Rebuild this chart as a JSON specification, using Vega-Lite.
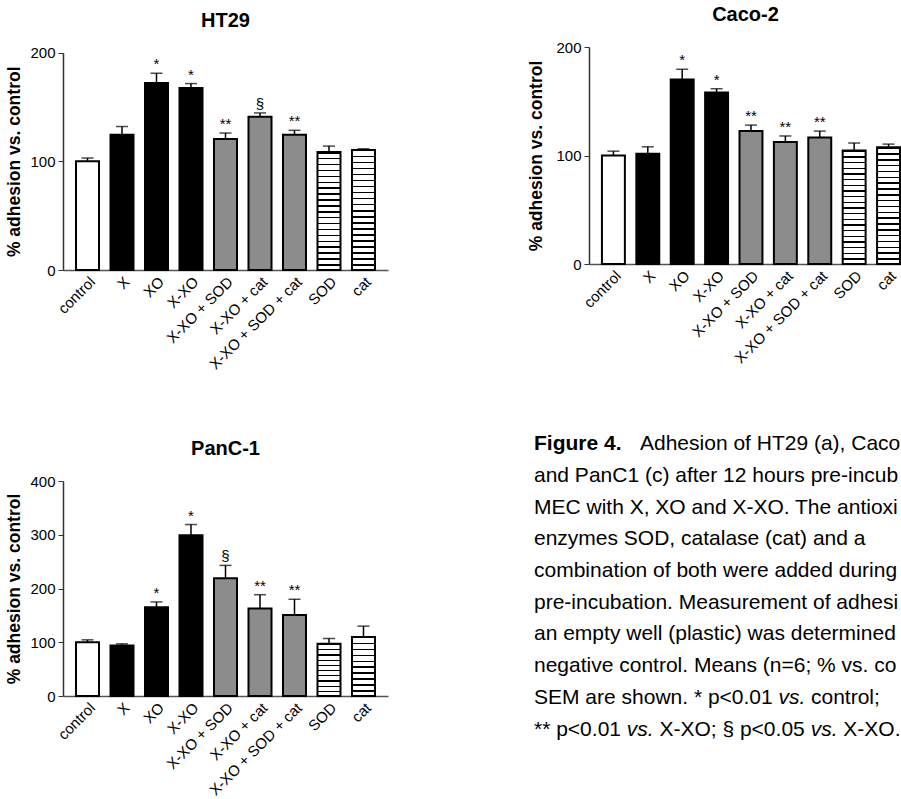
{
  "$schema": "https://vega.github.io/schema/vega-lite/v6.json",
  "background": "white",
  "padding": {"left": 5, "top": 5, "right": 0, "bottom": 0},
  "config": {
    "font": "Liberation Sans",
    "view": {"stroke": null},
    "title": {"fontSize": 20, "fontWeight": "bold", "color": "#000", "anchor": "middle", "offset": 15},
    "axis": {"labelColor": "#000", "titleColor": "#000", "domainColor": "#333", "tickColor": "#333", "grid": false}
  },
  "hconcat": [
    {
      "spacing": 67,
      "vconcat": [
        {
          "title": {"text": "HT29"},
          "width": 325, "height": 223,
          "data": {"values": [
            {"condition": "control", "mean": 100, "upper": 103, "sig": ""},
            {"condition": "X", "mean": 124.5, "upper": 132, "sig": ""},
            {"condition": "XO", "mean": 172, "upper": 181, "sig": "*"},
            {"condition": "X-XO", "mean": 167.5, "upper": 171.5, "sig": "*"},
            {"condition": "X-XO + SOD", "mean": 120.5, "upper": 126, "sig": "**"},
            {"condition": "X-XO + cat", "mean": 141, "upper": 144.5, "sig": "§"},
            {"condition": "X-XO + SOD + cat", "mean": 124.5, "upper": 128.5, "sig": "**"},
            {"condition": "SOD", "mean": 108.5, "upper": 114, "sig": ""},
            {"condition": "cat", "mean": 110.5, "upper": 111.5, "sig": ""}
          ]},
          "encoding": {
            "x": {"field": "condition", "type": "nominal", "sort": null,
              "scale": {"domain": ["control", "X", "XO", "X-XO", "X-XO + SOD", "X-XO + cat", "X-XO + SOD + cat", "SOD", "cat"], "paddingInner": 0.333, "paddingOuter": 0.377},
              "axis": {"title": null, "labelAngle": -45, "ticks": false, "labelFontSize": 15, "labelPadding": 4, "domainColor": "#555", "domainWidth": 1.5}},
            "y": {"field": "mean", "type": "quantitative", "title": "% adhesion vs. control",
              "scale": {"domain": [0, 200], "nice": false, "range": [223, 5.6]},
              "axis": {"values": [0, 100, 200], "labelFontSize": 15, "tickSize": 5, "labelPadding": 3, "titlePadding": 6, "titleFontSize": 17.5, "titleFontWeight": "bold", "domainWidth": 1.5}}
          },
          "layer": [
            {"mark": {"type": "rule", "color": "#000", "strokeWidth": 1.5}, "encoding": {"y2": {"field": "upper"}}},
            {"mark": {"type": "tick", "color": "#000", "thickness": 1.5, "size": 12}, "encoding": {"y": {"field": "upper", "type": "quantitative", "title": "% adhesion vs. control"}}},
            {"transform": [{"filter": {"field": "condition", "equal": "control"}}], "mark": {"type": "bar", "fill": "#fff", "stroke": "#000", "strokeWidth": 2}},
            {"transform": [{"filter": {"field": "condition", "oneOf": ["X", "XO", "X-XO"]}}], "mark": {"type": "bar", "fill": "#000", "stroke": "#000", "strokeWidth": 2}},
            {"transform": [{"filter": {"field": "condition", "oneOf": ["X-XO + SOD", "X-XO + cat", "X-XO + SOD + cat"]}}], "mark": {"type": "bar", "fill": "#8c8c8c", "stroke": "#000", "strokeWidth": 2}},
            {"transform": [{"filter": {"field": "condition", "oneOf": ["SOD", "cat"]}}], "mark": {"type": "bar", "stroke": "#000", "strokeWidth": 2, "fill": {"gradient": "linear", "x1": 0, "y1": 0, "x2": 0, "y2": 1, "stops": [
        {"offset": 0, "color": "#000"}, {"offset": 0.013, "color": "#000"}, {"offset": 0.013, "color": "#fff"}, {"offset": 0.05, "color": "#fff"},
        {"offset": 0.05, "color": "#000"}, {"offset": 0.063, "color": "#000"}, {"offset": 0.063, "color": "#fff"}, {"offset": 0.1, "color": "#fff"},
        {"offset": 0.1, "color": "#000"}, {"offset": 0.113, "color": "#000"}, {"offset": 0.113, "color": "#fff"}, {"offset": 0.15, "color": "#fff"},
        {"offset": 0.15, "color": "#000"}, {"offset": 0.163, "color": "#000"}, {"offset": 0.163, "color": "#fff"}, {"offset": 0.2, "color": "#fff"},
        {"offset": 0.2, "color": "#000"}, {"offset": 0.213, "color": "#000"}, {"offset": 0.213, "color": "#fff"}, {"offset": 0.25, "color": "#fff"},
        {"offset": 0.25, "color": "#000"}, {"offset": 0.263, "color": "#000"}, {"offset": 0.263, "color": "#fff"}, {"offset": 0.3, "color": "#fff"},
        {"offset": 0.3, "color": "#000"}, {"offset": 0.313, "color": "#000"}, {"offset": 0.313, "color": "#fff"}, {"offset": 0.35, "color": "#fff"},
        {"offset": 0.35, "color": "#000"}, {"offset": 0.363, "color": "#000"}, {"offset": 0.363, "color": "#fff"}, {"offset": 0.4, "color": "#fff"},
        {"offset": 0.4, "color": "#000"}, {"offset": 0.413, "color": "#000"}, {"offset": 0.413, "color": "#fff"}, {"offset": 0.45, "color": "#fff"},
        {"offset": 0.45, "color": "#000"}, {"offset": 0.463, "color": "#000"}, {"offset": 0.463, "color": "#fff"}, {"offset": 0.5, "color": "#fff"},
        {"offset": 0.5, "color": "#000"}, {"offset": 0.513, "color": "#000"}, {"offset": 0.513, "color": "#fff"}, {"offset": 0.55, "color": "#fff"},
        {"offset": 0.55, "color": "#000"}, {"offset": 0.563, "color": "#000"}, {"offset": 0.563, "color": "#fff"}, {"offset": 0.6, "color": "#fff"},
        {"offset": 0.6, "color": "#000"}, {"offset": 0.613, "color": "#000"}, {"offset": 0.613, "color": "#fff"}, {"offset": 0.65, "color": "#fff"},
        {"offset": 0.65, "color": "#000"}, {"offset": 0.663, "color": "#000"}, {"offset": 0.663, "color": "#fff"}, {"offset": 0.7, "color": "#fff"},
        {"offset": 0.7, "color": "#000"}, {"offset": 0.713, "color": "#000"}, {"offset": 0.713, "color": "#fff"}, {"offset": 0.75, "color": "#fff"},
        {"offset": 0.75, "color": "#000"}, {"offset": 0.763, "color": "#000"}, {"offset": 0.763, "color": "#fff"}, {"offset": 0.8, "color": "#fff"},
        {"offset": 0.8, "color": "#000"}, {"offset": 0.813, "color": "#000"}, {"offset": 0.813, "color": "#fff"}, {"offset": 0.85, "color": "#fff"},
        {"offset": 0.85, "color": "#000"}, {"offset": 0.863, "color": "#000"}, {"offset": 0.863, "color": "#fff"}, {"offset": 0.9, "color": "#fff"},
        {"offset": 0.9, "color": "#000"}, {"offset": 0.913, "color": "#000"}, {"offset": 0.913, "color": "#fff"}, {"offset": 0.95, "color": "#fff"},
        {"offset": 0.95, "color": "#000"}, {"offset": 0.963, "color": "#000"}, {"offset": 0.963, "color": "#fff"}, {"offset": 1, "color": "#fff"}
      ]}}},
            {"mark": {"type": "text", "baseline": "bottom", "dy": -1, "fontSize": 15, "color": "#000"}, "encoding": {"y": {"field": "upper", "type": "quantitative", "title": "% adhesion vs. control"}, "text": {"field": "sig"}}}
          ]
        },
        {
          "title": "PanC-1",
          "width": 325, "height": 215,
          "data": {"values": [
            {"condition": "control", "mean": 100, "upper": 104.5, "sig": ""},
            {"condition": "X", "mean": 94, "upper": 97, "sig": ""},
            {"condition": "XO", "mean": 165, "upper": 175, "sig": "*"},
            {"condition": "X-XO", "mean": 299, "upper": 319, "sig": "*"},
            {"condition": "X-XO + SOD", "mean": 219, "upper": 243, "sig": "§"},
            {"condition": "X-XO + cat", "mean": 163, "upper": 188.5, "sig": "**"},
            {"condition": "X-XO + SOD + cat", "mean": 150.5, "upper": 180, "sig": "**"},
            {"condition": "SOD", "mean": 97, "upper": 107, "sig": ""},
            {"condition": "cat", "mean": 110, "upper": 130, "sig": ""}
          ]},
          "encoding": {
            "x": {"field": "condition", "type": "nominal", "sort": null,
              "scale": {"domain": ["control", "X", "XO", "X-XO", "X-XO + SOD", "X-XO + cat", "X-XO + SOD + cat", "SOD", "cat"], "paddingInner": 0.333, "paddingOuter": 0.377},
              "axis": {"title": null, "labelAngle": -45, "ticks": false, "labelFontSize": 15, "labelPadding": 4, "domainColor": "#555", "domainWidth": 1.5}},
            "y": {"field": "mean", "type": "quantitative", "title": "% adhesion vs. control",
              "scale": {"domain": [0, 400], "nice": false},
              "axis": {"values": [0, 100, 200, 300, 400], "labelFontSize": 15, "tickSize": 5, "labelPadding": 3, "titlePadding": 6, "titleFontSize": 17.5, "titleFontWeight": "bold", "domainWidth": 1.5}}
          },
          "layer": [
            {"mark": {"type": "rule", "color": "#000", "strokeWidth": 1.5}, "encoding": {"y2": {"field": "upper"}}},
            {"mark": {"type": "tick", "color": "#000", "thickness": 1.5, "size": 12}, "encoding": {"y": {"field": "upper", "type": "quantitative", "title": "% adhesion vs. control"}}},
            {"transform": [{"filter": {"field": "condition", "equal": "control"}}], "mark": {"type": "bar", "fill": "#fff", "stroke": "#000", "strokeWidth": 2}},
            {"transform": [{"filter": {"field": "condition", "oneOf": ["X", "XO", "X-XO"]}}], "mark": {"type": "bar", "fill": "#000", "stroke": "#000", "strokeWidth": 2}},
            {"transform": [{"filter": {"field": "condition", "oneOf": ["X-XO + SOD", "X-XO + cat", "X-XO + SOD + cat"]}}], "mark": {"type": "bar", "fill": "#8c8c8c", "stroke": "#000", "strokeWidth": 2}},
            {"transform": [{"filter": {"field": "condition", "oneOf": ["SOD", "cat"]}}], "mark": {"type": "bar", "stroke": "#000", "strokeWidth": 2, "fill": {"gradient": "linear", "x1": 0, "y1": 0, "x2": 0, "y2": 1, "stops": [
        {"offset": 0, "color": "#000"}, {"offset": 0.025, "color": "#000"}, {"offset": 0.025, "color": "#fff"}, {"offset": 0.1, "color": "#fff"},
        {"offset": 0.1, "color": "#000"}, {"offset": 0.125, "color": "#000"}, {"offset": 0.125, "color": "#fff"}, {"offset": 0.2, "color": "#fff"},
        {"offset": 0.2, "color": "#000"}, {"offset": 0.225, "color": "#000"}, {"offset": 0.225, "color": "#fff"}, {"offset": 0.3, "color": "#fff"},
        {"offset": 0.3, "color": "#000"}, {"offset": 0.325, "color": "#000"}, {"offset": 0.325, "color": "#fff"}, {"offset": 0.4, "color": "#fff"},
        {"offset": 0.4, "color": "#000"}, {"offset": 0.425, "color": "#000"}, {"offset": 0.425, "color": "#fff"}, {"offset": 0.5, "color": "#fff"},
        {"offset": 0.5, "color": "#000"}, {"offset": 0.525, "color": "#000"}, {"offset": 0.525, "color": "#fff"}, {"offset": 0.6, "color": "#fff"},
        {"offset": 0.6, "color": "#000"}, {"offset": 0.625, "color": "#000"}, {"offset": 0.625, "color": "#fff"}, {"offset": 0.7, "color": "#fff"},
        {"offset": 0.7, "color": "#000"}, {"offset": 0.725, "color": "#000"}, {"offset": 0.725, "color": "#fff"}, {"offset": 0.8, "color": "#fff"},
        {"offset": 0.8, "color": "#000"}, {"offset": 0.825, "color": "#000"}, {"offset": 0.825, "color": "#fff"}, {"offset": 0.9, "color": "#fff"},
        {"offset": 0.9, "color": "#000"}, {"offset": 0.925, "color": "#000"}, {"offset": 0.925, "color": "#fff"}, {"offset": 1, "color": "#fff"}
      ]}}},
            {"mark": {"type": "text", "baseline": "bottom", "dy": -1, "fontSize": 15, "color": "#000"}, "encoding": {"y": {"field": "upper", "type": "quantitative", "title": "% adhesion vs. control"}, "text": {"field": "sig"}}}
          ]
        }
      ]
    },
    {
      "spacing": 0,
      "vconcat": [
        {
          "title": "Caco-2",
          "width": 313, "height": 217,
          "data": {"values": [
            {"condition": "control", "mean": 100, "upper": 104, "sig": ""},
            {"condition": "X", "mean": 101.5, "upper": 108, "sig": ""},
            {"condition": "XO", "mean": 170, "upper": 179.5, "sig": "*"},
            {"condition": "X-XO", "mean": 158, "upper": 161.5, "sig": "*"},
            {"condition": "X-XO + SOD", "mean": 122.5, "upper": 128, "sig": "**"},
            {"condition": "X-XO + cat", "mean": 112.5, "upper": 118, "sig": "**"},
            {"condition": "X-XO + SOD + cat", "mean": 116.5, "upper": 122.5, "sig": "**"},
            {"condition": "SOD", "mean": 104.5, "upper": 111.5, "sig": ""},
            {"condition": "cat", "mean": 107.5, "upper": 110.5, "sig": ""}
          ]},
          "encoding": {
            "x": {"field": "condition", "type": "nominal", "sort": null,
              "scale": {"domain": ["control", "X", "XO", "X-XO", "X-XO + SOD", "X-XO + cat", "X-XO + SOD + cat", "SOD", "cat"], "paddingInner": 0.333, "paddingOuter": 0.217, "align": 0.867},
              "axis": {"title": null, "labelAngle": -45, "ticks": false, "labelFontSize": 15, "labelPadding": 4, "domainColor": "#555", "domainWidth": 1.5}},
            "y": {"field": "mean", "type": "quantitative", "title": "% adhesion vs. control",
              "scale": {"domain": [0, 200], "nice": false},
              "axis": {"values": [0, 100, 200], "labelFontSize": 15, "tickSize": 5, "labelPadding": 3, "titlePadding": 10, "titleFontSize": 17.5, "titleFontWeight": "bold", "domainWidth": 1.5}}
          },
          "layer": [
            {"mark": {"type": "rule", "color": "#000", "strokeWidth": 1.5}, "encoding": {"y2": {"field": "upper"}}},
            {"mark": {"type": "tick", "color": "#000", "thickness": 1.5, "size": 12}, "encoding": {"y": {"field": "upper", "type": "quantitative", "title": "% adhesion vs. control"}}},
            {"transform": [{"filter": {"field": "condition", "equal": "control"}}], "mark": {"type": "bar", "fill": "#fff", "stroke": "#000", "strokeWidth": 2}},
            {"transform": [{"filter": {"field": "condition", "oneOf": ["X", "XO", "X-XO"]}}], "mark": {"type": "bar", "fill": "#000", "stroke": "#000", "strokeWidth": 2}},
            {"transform": [{"filter": {"field": "condition", "oneOf": ["X-XO + SOD", "X-XO + cat", "X-XO + SOD + cat"]}}], "mark": {"type": "bar", "fill": "#8c8c8c", "stroke": "#000", "strokeWidth": 2}},
            {"transform": [{"filter": {"field": "condition", "oneOf": ["SOD", "cat"]}}], "mark": {"type": "bar", "stroke": "#000", "strokeWidth": 2, "fill": {"gradient": "linear", "x1": 0, "y1": 0, "x2": 0, "y2": 1, "stops": [
        {"offset": 0, "color": "#000"}, {"offset": 0.013, "color": "#000"}, {"offset": 0.013, "color": "#fff"}, {"offset": 0.05, "color": "#fff"},
        {"offset": 0.05, "color": "#000"}, {"offset": 0.063, "color": "#000"}, {"offset": 0.063, "color": "#fff"}, {"offset": 0.1, "color": "#fff"},
        {"offset": 0.1, "color": "#000"}, {"offset": 0.113, "color": "#000"}, {"offset": 0.113, "color": "#fff"}, {"offset": 0.15, "color": "#fff"},
        {"offset": 0.15, "color": "#000"}, {"offset": 0.163, "color": "#000"}, {"offset": 0.163, "color": "#fff"}, {"offset": 0.2, "color": "#fff"},
        {"offset": 0.2, "color": "#000"}, {"offset": 0.213, "color": "#000"}, {"offset": 0.213, "color": "#fff"}, {"offset": 0.25, "color": "#fff"},
        {"offset": 0.25, "color": "#000"}, {"offset": 0.263, "color": "#000"}, {"offset": 0.263, "color": "#fff"}, {"offset": 0.3, "color": "#fff"},
        {"offset": 0.3, "color": "#000"}, {"offset": 0.313, "color": "#000"}, {"offset": 0.313, "color": "#fff"}, {"offset": 0.35, "color": "#fff"},
        {"offset": 0.35, "color": "#000"}, {"offset": 0.363, "color": "#000"}, {"offset": 0.363, "color": "#fff"}, {"offset": 0.4, "color": "#fff"},
        {"offset": 0.4, "color": "#000"}, {"offset": 0.413, "color": "#000"}, {"offset": 0.413, "color": "#fff"}, {"offset": 0.45, "color": "#fff"},
        {"offset": 0.45, "color": "#000"}, {"offset": 0.463, "color": "#000"}, {"offset": 0.463, "color": "#fff"}, {"offset": 0.5, "color": "#fff"},
        {"offset": 0.5, "color": "#000"}, {"offset": 0.513, "color": "#000"}, {"offset": 0.513, "color": "#fff"}, {"offset": 0.55, "color": "#fff"},
        {"offset": 0.55, "color": "#000"}, {"offset": 0.563, "color": "#000"}, {"offset": 0.563, "color": "#fff"}, {"offset": 0.6, "color": "#fff"},
        {"offset": 0.6, "color": "#000"}, {"offset": 0.613, "color": "#000"}, {"offset": 0.613, "color": "#fff"}, {"offset": 0.65, "color": "#fff"},
        {"offset": 0.65, "color": "#000"}, {"offset": 0.663, "color": "#000"}, {"offset": 0.663, "color": "#fff"}, {"offset": 0.7, "color": "#fff"},
        {"offset": 0.7, "color": "#000"}, {"offset": 0.713, "color": "#000"}, {"offset": 0.713, "color": "#fff"}, {"offset": 0.75, "color": "#fff"},
        {"offset": 0.75, "color": "#000"}, {"offset": 0.763, "color": "#000"}, {"offset": 0.763, "color": "#fff"}, {"offset": 0.8, "color": "#fff"},
        {"offset": 0.8, "color": "#000"}, {"offset": 0.813, "color": "#000"}, {"offset": 0.813, "color": "#fff"}, {"offset": 0.85, "color": "#fff"},
        {"offset": 0.85, "color": "#000"}, {"offset": 0.863, "color": "#000"}, {"offset": 0.863, "color": "#fff"}, {"offset": 0.9, "color": "#fff"},
        {"offset": 0.9, "color": "#000"}, {"offset": 0.913, "color": "#000"}, {"offset": 0.913, "color": "#fff"}, {"offset": 0.95, "color": "#fff"},
        {"offset": 0.95, "color": "#000"}, {"offset": 0.963, "color": "#000"}, {"offset": 0.963, "color": "#fff"}, {"offset": 1, "color": "#fff"}
      ]}}},
            {"mark": {"type": "text", "baseline": "bottom", "dy": -1, "fontSize": 15, "color": "#000"}, "encoding": {"y": {"field": "upper", "type": "quantitative", "title": "% adhesion vs. control"}, "text": {"field": "sig"}}}
          ]
        },
        {
          "width": 312, "height": 410,
          "encoding": {
            "x": {"datum": 0, "type": "quantitative", "scale": {"domain": [55, 367], "nice": false, "zero": false}, "axis": null},
            "y": {"field": "line", "type": "quantitative", "scale": {"domain": [-2.47, 10.464], "reverse": true, "nice": false, "zero": false}, "axis": null}
          },
          "layer": [
            {
              "data": {"values": [{"line": 0, "text": "Figure 4."}]},
              "mark": {"type": "text", "align": "left", "baseline": "middle", "fontSize": 21, "fontWeight": "bold", "color": "#000"},
              "encoding": {"text": {"field": "text"}}
            },
            {
              "data": {"values": [{"line": 0, "text": "Adhesion of HT29 (a), Caco-2 (b)"}]},
              "mark": {"type": "text", "align": "left", "baseline": "middle", "fontSize": 21, "color": "#000", "dx": 106, "limit": 261, "ellipsis": "\u200b"},
              "encoding": {"text": {"field": "text"}}
            },
            {
              "data": {"values": [
                {"line": 1, "text": "and PanC1 (c) after 12 hours pre-incubation of"},
                {"line": 2, "text": "MEC with X, XO and X-XO. The antioxidant"},
                {"line": 3, "text": "enzymes SOD, catalase (cat) and a"},
                {"line": 4, "text": "combination of both were added during"},
                {"line": 5, "text": "pre-incubation. Measurement of adhesion to"},
                {"line": 6, "text": "an empty well (plastic) was determined as"},
                {"line": 7, "text": "negative control. Means (n=6; % vs. control) ±"},
                {"line": 8, "text": "SEM are shown. * p<0.01"},
                {"line": 9, "text": "** p<0.01"}
              ]},
              "mark": {"type": "text", "align": "left", "baseline": "middle", "fontSize": 21, "color": "#000", "limit": 367, "ellipsis": "\u200b"},
              "encoding": {"text": {"field": "text"}}
            },
            {
              "data": {"values": [{"line": 8, "text": "vs."}]},
              "mark": {"type": "text", "align": "left", "baseline": "middle", "fontSize": 21, "fontStyle": "italic", "color": "#000", "dx": 244.5},
              "encoding": {"text": {"field": "text"}}
            },
            {
              "data": {"values": [{"line": 8, "text": "control;"}]},
              "mark": {"type": "text", "align": "left", "baseline": "middle", "fontSize": 21, "color": "#000", "dx": 277},
              "encoding": {"text": {"field": "text"}}
            },
            {
              "data": {"values": [{"line": 9, "text": "vs."}]},
              "mark": {"type": "text", "align": "left", "baseline": "middle", "fontSize": 21, "fontStyle": "italic", "color": "#000", "dx": 92.8},
              "encoding": {"text": {"field": "text"}}
            },
            {
              "data": {"values": [{"line": 9, "text": "X-XO; § p<0.05"}]},
              "mark": {"type": "text", "align": "left", "baseline": "middle", "fontSize": 21, "color": "#000", "dx": 125.4},
              "encoding": {"text": {"field": "text"}}
            },
            {
              "data": {"values": [{"line": 9, "text": "vs."}]},
              "mark": {"type": "text", "align": "left", "baseline": "middle", "fontSize": 21, "fontStyle": "italic", "color": "#000", "dx": 276.7},
              "encoding": {"text": {"field": "text"}}
            },
            {
              "data": {"values": [{"line": 9, "text": "X-XO."}]},
              "mark": {"type": "text", "align": "left", "baseline": "middle", "fontSize": 21, "color": "#000", "dx": 309.3, "limit": 58, "ellipsis": "\u200b"},
              "encoding": {"text": {"field": "text"}}
            }
          ]
        }
      ]
    }
  ],
  "spacing": 139
}
